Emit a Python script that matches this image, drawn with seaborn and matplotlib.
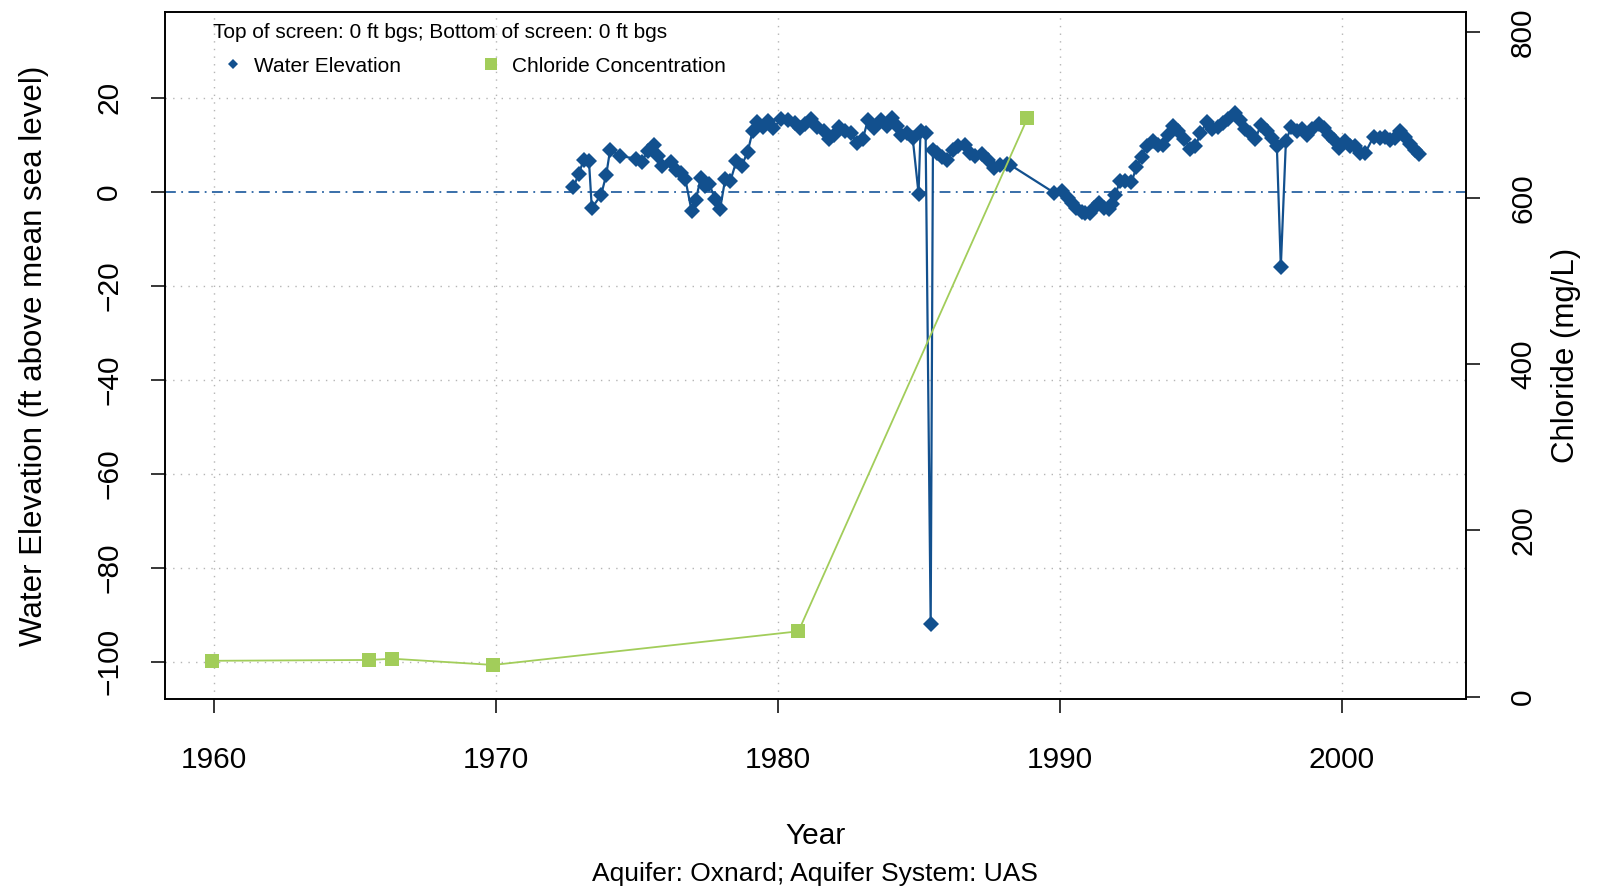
import matplotlib
matplotlib.use("Agg")
import matplotlib.pyplot as plt
from matplotlib.lines import Line2D
import numpy as np
import pandas as pd
import seaborn as sns

# Water elevation record (decimal year, ft above mean sea level)
water_year = [
    1972.74, 1972.92, 1973.10, 1973.29, 1973.39, 1973.72, 1973.90, 1974.04, 1974.40, 1974.95,
    1975.16, 1975.38, 1975.60, 1975.74, 1975.88, 1976.21, 1976.39, 1976.57, 1976.71, 1976.93,
    1977.08, 1977.26, 1977.40, 1977.55, 1977.76, 1977.94, 1978.12, 1978.30, 1978.52, 1978.70,
    1978.92, 1979.10, 1979.24, 1979.46, 1979.64, 1979.82, 1980.11, 1980.36, 1980.58, 1980.79,
    1980.97, 1981.16, 1981.37, 1981.62, 1981.81, 1981.99, 1982.17, 1982.38, 1982.60, 1982.78,
    1983.00, 1983.18, 1983.39, 1983.65, 1983.86, 1984.04, 1984.22, 1984.37, 1984.58, 1984.77,
    1984.98, 1985.05, 1985.23, 1985.41, 1985.49, 1985.63, 1985.81, 1985.99, 1986.21, 1986.39,
    1986.61, 1986.82, 1987.00, 1987.22, 1987.44, 1987.65, 1987.87, 1988.12, 1988.23, 1989.78,
    1990.07, 1990.29, 1990.43, 1990.58, 1990.76, 1990.90, 1991.05, 1991.19, 1991.37, 1991.55,
    1991.73, 1991.84, 1991.95, 1992.13, 1992.31, 1992.53, 1992.71, 1992.89, 1993.07, 1993.29,
    1993.47, 1993.65, 1993.83, 1994.01, 1994.19, 1994.40, 1994.62, 1994.80, 1994.98, 1995.20,
    1995.38, 1995.60, 1995.78, 1995.96, 1996.21, 1996.39, 1996.57, 1996.75, 1996.93, 1997.11,
    1997.33, 1997.51, 1997.69, 1997.83, 1998.01, 1998.19, 1998.41, 1998.59, 1998.77, 1998.95,
    1999.17, 1999.35, 1999.53, 1999.71, 1999.89, 2000.11, 2000.29, 2000.47, 2000.65, 2000.83,
    2001.12, 2001.34, 2001.52, 2001.70, 2001.88, 2002.06, 2002.24, 2002.42, 2002.60, 2002.74,
]
water_elev = [
    0.9, 3.7, 6.7, 6.5, -3.5, -0.7, 3.5, 8.9, 7.6, 7.0,
    6.3, 8.7, 10.0, 7.6, 5.4, 6.3, 4.6, 3.9, 2.6, -4.1,
    -1.7, 3.0, 1.1, 1.7, -1.5, -3.7, 2.6, 2.2, 6.5, 5.4,
    8.5, 13.0, 14.8, 13.7, 15.0, 13.5, 15.4, 15.2, 14.6, 13.5,
    14.3, 15.4, 13.7, 12.8, 11.1, 12.0, 13.7, 13.0, 12.4, 10.4,
    11.1, 15.2, 13.5, 15.2, 13.9, 15.7, 13.9, 12.0, 12.4, 11.5,
    -0.4, 13.0, 12.4, -92.0, 8.9, 8.3, 7.4, 6.7, 8.9, 9.8,
    10.0, 8.3, 7.6, 8.0, 6.7, 5.0, 5.7, 5.9, 5.7, -0.2,
    0.2, -1.3, -2.4, -3.5, -4.3, -4.6, -4.6, -3.5, -2.4, -3.5,
    -3.7, -2.6, -0.7, 2.2, 2.2, 2.0, 5.2, 7.4, 9.8, 10.7,
    10.0, 10.0, 12.0, 13.9, 13.0, 11.3, 9.1, 9.6, 12.4, 14.8,
    13.3, 13.7, 14.6, 15.4, 16.7, 15.2, 13.3, 12.4, 11.1, 14.1,
    13.0, 11.5, 9.6, -16.0, 10.7, 13.7, 13.0, 13.3, 12.0, 13.3,
    14.3, 13.5, 12.0, 10.9, 9.3, 10.7, 9.8, 9.6, 8.3, 8.3,
    11.7, 11.5, 11.7, 10.9, 11.5, 13.0, 11.7, 10.2, 8.9, 8.0,
]

# Chloride samples (decimal year, mg/L)
chloride_year = [1959.93, 1965.49, 1966.32, 1969.89, 1980.72, 1988.84]
chloride_conc = [43.0, 44.0, 45.5, 38.0, 78.5, 696.0]

year_ticks = [1960, 1970, 1980, 1990, 2000]
elev_ticks = [-100, -80, -60, -40, -20, 0, 20]
chloride_ticks = [0, 200, 400, 600, 800]

water_df = pd.DataFrame({"Year": water_year, "Elevation": water_elev})
chloride_df = pd.DataFrame({"Year": chloride_year, "Chloride": chloride_conc})

BLUE = "#12508e"
GREEN = "#a2cd5a"

sns.set_theme(style="white")
plt.rcParams["font.family"] = ["Liberation Sans", "DejaVu Sans"]
plt.rcParams["axes.unicode_minus"] = True
for key in ("text.color", "axes.labelcolor", "xtick.color", "ytick.color"):
    plt.rcParams[key] = "black"

fig = plt.figure(figsize=(15.97, 8.90), dpi=100)
ax = fig.add_axes([0.1033, 0.2146, 0.8147, 0.7719])

# grid (dotted) drawn first so the data sits above it
for xv in year_ticks:
    ax.axvline(xv, color="#b5b5b5", lw=1.0, ls=(0, (1, 4.5)), zorder=0)
for yv in elev_ticks:
    if yv != 0:
        ax.axhline(yv, color="#b5b5b5", lw=1.0, ls=(0, (1, 4.5)), zorder=0)
ax.axhline(0, color="#2a63a3", lw=1.3, ls=(0, (6, 3, 1, 3)), zorder=1)

sns.lineplot(data=water_df, x="Year", y="Elevation", ax=ax, color=BLUE,
             linewidth=1.6, marker="D", markersize=8.0, markeredgewidth=0,
             markerfacecolor=BLUE, zorder=3)

ax.set_xlim(1958.25, 2004.4)
ax.set_ylim(-107.9, 38.2)
ax.set_xticks(year_ticks)
ax.set_yticks(elev_ticks)
ax.set_xticklabels([str(v) for v in year_ticks])
ax.set_yticklabels([f"{v}".replace("-", "\u2212") for v in elev_ticks],
                   rotation=90, va="center")
ax.tick_params(axis="x", direction="out", length=10, width=1.1, pad=24,
               labelsize=21.5, colors="black", bottom=True)
ax.tick_params(axis="y", direction="out", length=10, width=1.1, pad=20,
               labelsize=21.5, colors="black", left=True)
ax.set_xlabel("Year", fontsize=21.5, color="black")
ax.xaxis.set_label_coords(0.5, -0.179)
ax.set_ylabel("Water Elevation (ft above mean sea level)", fontsize=22.5,
              color="black")
ax.yaxis.set_label_coords(-0.089, 0.5)
for s in ax.spines.values():
    s.set_color("black")
    s.set_linewidth(1.2)

ax2 = ax.twinx()
sns.lineplot(data=chloride_df, x="Year", y="Chloride", ax=ax2, color=GREEN,
             linewidth=1.3, marker="s", markersize=10, markeredgewidth=0,
             markerfacecolor=GREEN, zorder=4)
ax2.set_ylim(-3, 824)
ax2.set_yticks(chloride_ticks)
ax2.set_yticklabels([str(v) for v in chloride_ticks], rotation=90, va="center")
ax2.tick_params(axis="y", direction="out", length=10, width=1.1, pad=21,
                labelsize=21.5, colors="black", right=True)
ax2.set_ylabel("Chloride (mg/L)", fontsize=22.5, rotation=90, color="black")
ax2.yaxis.set_label_position("right")
ax2.yaxis.set_label_coords(1.0652, 0.5)
ax2.set_xlabel("")
for s in ax2.spines.values():
    s.set_color("black")
    s.set_linewidth(1.2)

# screen depth note and legend in the upper-left corner
ax.text(0.0369, 0.970, "Top of screen: 0 ft bgs; Bottom of screen: 0 ft bgs",
        transform=ax.transAxes, ha="left", va="center", fontsize=15)
handles = [
    Line2D([], [], ls="none", marker="D", color=BLUE, markersize=5, markeredgewidth=0),
    Line2D([], [], ls="none", marker="s", color=GREEN, markersize=8, markeredgewidth=0),
]
ax2.legend(handles, ["Water Elevation", "Chloride Concentration"], ncol=2,
           loc="upper left", bbox_to_anchor=(0.0443, 0.935), borderaxespad=0,
           borderpad=0, frameon=False, fontsize=15, handlelength=1.0,
           handletextpad=0.5, columnspacing=3.85)

fig.text(0.5106, 0.018, "Aquifer: Oxnard; Aquifer System: UAS", ha="center",
         va="center", fontsize=19)

fig.savefig("out.png", dpi=100)
